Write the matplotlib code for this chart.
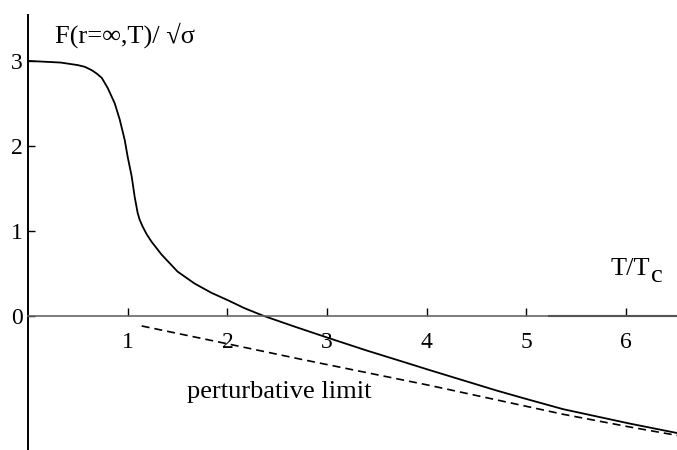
import matplotlib
matplotlib.use("Agg")
import matplotlib.pyplot as plt

# free energy at infinite separation
T = [0.00, 0.33, 0.50, 0.57, 0.64, 0.69, 0.74, 0.80, 0.87, 0.92, 0.97, 1.00,
     1.04, 1.07, 1.10, 1.12, 1.15, 1.19, 1.24, 1.34, 1.50, 1.67, 1.84, 2.01,
     2.17, 2.36, 2.68, 3.01, 3.40, 3.73, 4.03, 4.70, 5.00, 5.37, 6.04, 6.51]
F = [3.00, 2.98, 2.95, 2.93, 2.89, 2.85, 2.80, 2.68, 2.50, 2.31, 2.07, 1.87,
     1.64, 1.40, 1.21, 1.13, 1.05, 0.96, 0.87, 0.72, 0.52, 0.38, 0.27, 0.18,
     0.09, 0.00, -0.13, -0.26, -0.41, -0.53, -0.64, -0.88, -0.98, -1.10,
     -1.27, -1.38]

# perturbative limit (dashed)
T_pert = [1.14, 2.00, 2.73, 3.40, 4.03, 4.70, 5.37, 6.04, 6.52]
F_pert = [-0.12, -0.33, -0.51, -0.67, -0.82, -0.99, -1.16, -1.31, -1.41]

xticks = [1, 2, 3, 4, 5, 6]
yticks = [0, 1, 2, 3]

plt.rcParams['font.family'] = ['Liberation Serif', 'DejaVu Serif']

fig = plt.figure(figsize=(6.77, 4.5), dpi=100)
ax = fig.add_axes([28/677, 0, 1 - 28/677, 435/450])

ax.plot(T, F, color='black', lw=1.3)
ax.plot(T_pert, F_pert, color='black', lw=1.2, dashes=(4.8, 3))

ax.set_xlim(0, 6.51)
ax.set_ylim(-1.58, 3.54)

ax.spines['top'].set_visible(False)
ax.spines['right'].set_visible(False)
ax.spines['left'].set_linewidth(1.4)
ax.spines['bottom'].set_position(('data', 0))
ax.spines['bottom'].set_color('#666666')
ax.spines['bottom'].set_linewidth(1.2)
# the x-axis turns black past T~5.2
ax.plot([5.23, 6.51], [0, 0], color='black', lw=1.5, clip_on=False)

ax.set_xticks(xticks)
ax.set_yticks(yticks)
ax.tick_params(axis='x', direction='in', length=5.5, width=1, pad=12,
               labelsize=17, color='black')
ax.tick_params(axis='y', direction='in', length=5, width=1, pad=4,
               labelsize=17)

ax.text(0.27, 3.22, 'F(r=∞,T)/ √σ', fontsize=19, ha='left', va='baseline')
ax.text(5.84, 0.48, 'T/T', fontsize=19, ha='left', va='baseline')
ax.text(6.245, 0.40, 'c', fontsize=19, ha='left', va='baseline')
ax.text(1.595, -0.965, 'perturbative limit', fontsize=19,
        ha='left', va='baseline')

fig.savefig('out.png', dpi=100)
